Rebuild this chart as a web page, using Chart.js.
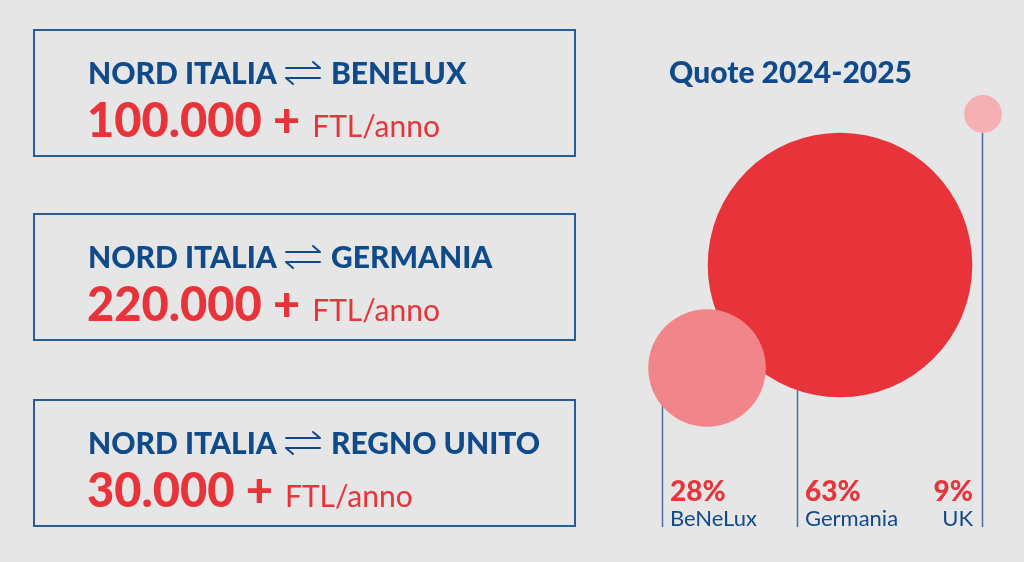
<!DOCTYPE html>
<html>
<head>
<meta charset="utf-8">
<script src="https://cdn.jsdelivr.net/npm/chart.js@4.4.1/dist/chart.umd.min.js"></script>
<style>
  html, body { margin: 0; padding: 0; background: #e6e6e6; }
  #page { position: relative; width: 1024px; height: 562px; overflow: hidden; font-family: Lato, "Open Sans", sans-serif; }
  #bubbles { position: absolute; left: 0; top: 0; }
  .route { position: absolute; left: 33px; width: 539px; height: 124px; border: 2px solid #2b5a94; }
  .route .title { position: absolute; left: 53px; top: 23px; font-size: 30px; font-weight: 900; line-height: 36px; color: #0f4a8a; white-space: nowrap; }
  .route .arrow { display: inline-block; width: 38px; height: 26px; margin: 0 9px 0 7px; vertical-align: -2px; }
  .route .volume { position: absolute; left: 52px; top: 60px; color: #e8333a; white-space: nowrap; line-height: 56px; }
  .route .volume b { font-size: 47px; font-weight: 900; }
  .route .volume span { font-size: 30px; margin-left: 12px; }
  #quote { position: absolute; left: 669px; top: 53px; font-size: 30px; font-weight: 900; color: #0f4a8a; white-space: nowrap; }
</style>
</head>
<body>
<div id="page">
  <canvas id="bubbles" width="1024" height="562"></canvas>
  <div id="quote">Quote 2024-2025</div>
</div>
<script>
// rotte e volumi
const origin = 'NORD ITALIA';
const destinations = ['BENELUX', 'GERMANIA', 'REGNO UNITO'];
const volumes = ['100.000', '220.000', '30.000'];

// quote 2024-2025
const regions = ['BeNeLux', 'Germania', 'UK'];
const shares = [28, 63, 9];

// layout
const boxTops = [29, 213, 399];
const bubbleX = [707, 840, 983];
const bubbleY = [368, 265, 114];
const lineOffset = [-45, -43, -1];
const bubbleColors = ['#f28589', '#e8333a', '#f5b0b3'];

const arrowSvg =
  '<svg class="arrow" viewBox="0 0 38 26" fill="none" stroke="#0f4a8a" stroke-width="2" stroke-linecap="round" stroke-linejoin="round">' +
  '<path d="M2 8H36M29 2L36 8"/><path d="M36 18H2M9 24L2 18"/></svg>';

const page = document.querySelector('#page');
destinations.forEach((dest, i) => {
  const box = document.createElement('div');
  box.className = 'route';
  box.style.top = boxTops[i] + 'px';
  box.innerHTML =
    '<div class="title">' + origin + arrowSvg + dest + '</div>' +
    '<div class="volume"><b>' + volumes[i] + ' +</b><span>FTL/anno</span></div>';
  page.appendChild(box);
});

const leaderLines = {
  id: 'leaderLines',
  beforeDatasetsDraw(chart) {
    const ctx = chart.ctx;
    const bottom = chart.scales.y.getPixelForValue(527);
    ctx.save();
    ctx.strokeStyle = '#4a6fa0';
    ctx.lineWidth = 1.5;
    regions.forEach((r, i) => {
      const el = chart.getDatasetMeta(i).data[0];
      const x = Math.round(el.x + lineOffset[i]) + 0.5;
      ctx.beginPath();
      ctx.moveTo(x, el.y);
      ctx.lineTo(x, bottom);
      ctx.stroke();
    });
    ctx.restore();
  },
  afterDatasetsDraw(chart) {
    const ctx = chart.ctx;
    ctx.save();
    regions.forEach((r, i) => {
      const el = chart.getDatasetMeta(i).data[0];
      const x = el.x + lineOffset[i];
      const right = i === regions.length - 1;
      ctx.textAlign = right ? 'right' : 'left';
      const tx = right ? x - 9 : x + 8;
      ctx.fillStyle = '#e8333a';
      ctx.font = '900 28px Lato';
      ctx.fillText(shares[i] + '%', tx, 501);
      ctx.fillStyle = '#0f4a8a';
      ctx.font = '22px Lato';
      ctx.fillText(r, tx, 526);
    });
    ctx.restore();
  }
};

const canvas = document.querySelector('#bubbles');
const chart = new Chart(canvas, {
  type: 'bubble',
  data: {
    datasets: regions.map((r, i) => ({
      label: r,
      data: [{ x: bubbleX[i], y: bubbleY[i], r: shares[i] * 2.1 }],
      backgroundColor: bubbleColors[i],
      borderWidth: 0,
      hoverBorderWidth: 0,
      clip: false
    }))
  },
  options: {
    responsive: false,
    animation: false,
    layout: { padding: 0, autoPadding: false },
    scales: {
      x: { type: 'linear', min: 0, max: 1024, display: false },
      y: { type: 'linear', min: 0, max: 562, reverse: true, display: false }
    },
    plugins: {
      legend: { display: false },
      tooltip: { enabled: false }
    }
  },
  plugins: [leaderLines]
});
</script>
</body>
</html>
